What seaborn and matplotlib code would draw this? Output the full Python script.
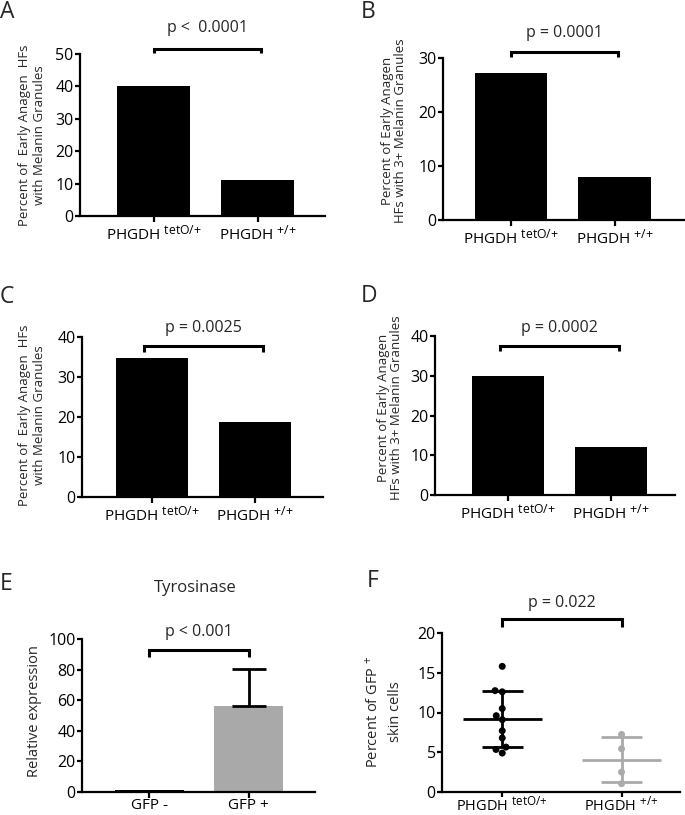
import numpy as np
import pandas as pd
import matplotlib
matplotlib.use("Agg")
import matplotlib.pyplot as plt
import matplotlib._mathtext as _mt
import seaborn as sns

_mt.SHRINK_FACTOR = 0.8

sns.set_theme(style="ticks")
FONT = "Open Sans"
plt.rcParams["font.family"] = [FONT, "DejaVu Sans"]
plt.rcParams["mathtext.fontset"] = "custom"
plt.rcParams["mathtext.rm"] = FONT
plt.rcParams["mathtext.it"] = FONT
plt.rcParams["mathtext.bf"] = FONT

# ---------------- data ----------------
geno = ["PHGDH $^{\\mathregular{tetO/{+}}}$", "PHGDH $^{\\mathregular{{+}/{+}}}$"]

A_vals = [40.0, 11.1]
B_vals = [27.3, 8.0]
C_vals = [34.8, 18.7]
D_vals = [30.0, 12.0]

E_cats = ["GFP -", "GFP +"]
E_vals = [1.0, 56.5]
E_err = [0.0, 23.8]

F_tet = [15.8, 12.6, 12.75, 10.5, 9.6, 9.1, 7.7, 6.8, 5.65, 5.35, 4.9]
F_wt = [7.24, 5.44, 2.5, 1.05]

A_p = "p <  0.0001"
B_p = "p = 0.0001"
C_p = "p = 0.0025"
D_p = "p = 0.0002"
E_p = "p < 0.001"
F_p = "p = 0.022"

A_ylabel = "Percent of  Early Anagen  HFs\nwith Melanin Granules"
B_ylabel = "Percent of Early Anagen\nHFs with 3+ Melanin Granules"
F_ylabel = "Percent of GFP $^{+}$\nskin cells"

W, H = 685, 815
fig = plt.figure(figsize=(W / 100, H / 100), dpi=100)

TICK_FS = 11.5


def axes_px(l, r, t, b):
    return fig.add_axes([l / W, 1 - b / H, (r - l) / W, (b - t) / H])


def style(ax, ymax, step, xlim, xpad=2.0):
    ax.set_ylim(0, ymax)
    ax.set_yticks(np.arange(0, ymax + 0.1, step))
    ax.set_xlim(*xlim)
    for s in ["top", "right"]:
        ax.spines[s].set_visible(False)
    for s in ["left", "bottom"]:
        ax.spines[s].set_linewidth(1.6)
        ax.spines[s].set_color("black")
    ax.tick_params(axis="y", length=3.5, width=1.6, pad=1, labelsize=TICK_FS, colors="black")
    ax.tick_params(axis="x", length=4.2, width=1.6, pad=xpad, labelsize=TICK_FS - 0.5,
                   colors="black")
    ax.set_xlabel("")
    ax.set_ylabel("")


def bracket(ax, x0, x1, y, yleg, text, ytext, fs=11.5):
    ax.plot([x0, x0, x1, x1], [yleg, y, y, yleg], color="black", lw=2.2,
            clip_on=False, solid_capstyle="butt", solid_joinstyle="miter")
    ax.text((x0 + x1) / 2, ytext, text, ha="center", va="center", fontsize=fs,
            clip_on=False)


def ylab(px_x, px_y, text, fs=9.5, ls=1.25):
    fig.text(px_x / W, 1 - px_y / H, text, rotation=90, ha="center", va="center",
             fontsize=fs, multialignment="center", linespacing=ls)


def letter(px_x, px_y, s):
    fig.text(px_x / W, 1 - px_y / H, s, ha="left", va="top", fontsize=16.5)


def bar_panel(ax, vals, ymax, step, xlim):
    df = pd.DataFrame({"g": geno, "v": vals})
    sns.barplot(data=df, x="g", y="v", ax=ax, color="black", width=0.7,
                errorbar=None, saturation=1, edgecolor="black", linewidth=0)
    style(ax, ymax, step, xlim)


# A
axA = axes_px(80, 325, 54, 216)
bar_panel(axA, A_vals, 50, 10, (-0.707, 1.649))
bracket(axA, 0, 1.03, 51.4, 50.2, A_p, 57.9)
ylab(32, 135, A_ylabel)
letter(0, 0.5, "A")

# B
axB = axes_px(443, 684, 58, 220)
bar_panel(axB, B_vals, 30, 10, (-0.657, 1.67))
bracket(axB, 0, 1.03, 31.2, 30.2, B_p, 34.6)
ylab(394, 131, B_ylabel, ls=1.1)
letter(361, 0.5, "B")

# C
axC = axes_px(82, 323, 337, 497)
bar_panel(axC, C_vals, 40, 10, (-0.68, 1.66))
bracket(axC, -0.08, 1.08, 37.7, 36.3, C_p, 42.2)
ylab(32, 415, A_ylabel)
letter(0, 285, "C")

# D
axD = axes_px(435, 675, 336, 495)
bar_panel(axD, D_vals, 40, 10, (-0.71, 1.62))
bracket(axD, -0.08, 1.08, 37.4, 36.2, D_p, 41.9)
ylab(390, 408, B_ylabel, ls=1.1)
letter(361, 284, "D")

# E
axE = axes_px(82, 315, 639, 792)
dfE = pd.DataFrame({"g": E_cats, "v": E_vals})
sns.barplot(data=dfE, x="g", y="v", ax=axE, hue="g", palette=["black", "#a9a9a9"],
            width=0.7, errorbar=None, saturation=1, linewidth=0, legend=False)
axE.errorbar([1], [E_vals[1]], yerr=[[0], [E_err[1]]], fmt="none", ecolor="black",
             elinewidth=2, capsize=12, capthick=2)
style(axE, 100, 20, (-0.68, 1.67), xpad=0.0)
bracket(axE, 0, 1.0, 92.8, 88.0, E_p, 104.8)
ylab(35, 711, "Relative expression", fs=10.5)
fig.text(195 / W, 1 - 588 / H, "Tyrosinase", ha="center", va="center", fontsize=12)
letter(0, 572, "E")

# F
axF = axes_px(442, 680, 633, 792)
dfF = pd.DataFrame({"g": [geno[0]] * len(F_tet) + [geno[1]] * len(F_wt),
                    "v": F_tet + F_wt})
pal = {geno[0]: "black", geno[1]: "#aaaaaa"}
sns.swarmplot(data=dfF, x="g", y="v", hue="g", palette=pal, ax=axF, size=5,
              legend=False, zorder=3)
for i, g in enumerate(geno):
    v = dfF.loc[dfF.g == g, "v"].to_numpy()
    m, sd = v.mean(), v.std(ddof=1)
    c = pal[g]
    axF.hlines(m, i - 0.33, i + 0.33, color=c, lw=2)
    axF.hlines([m - sd, m + sd], i - 0.17, i + 0.17, color=c, lw=2)
    axF.vlines(i, m - sd, m + sd, color=c, lw=2)
style(axF, 20, 5, (-0.505, 1.49), xpad=-1.5)
axF.tick_params(axis="x", length=3.6, labelsize=10.5)
bracket(axF, 0, 1.0, 21.75, 20.7, F_p, 23.8)
ylab(384, 712, F_ylabel, fs=10.5, ls=1.5)
letter(367, 569, "F")

fig.savefig("out.png", dpi=100)
